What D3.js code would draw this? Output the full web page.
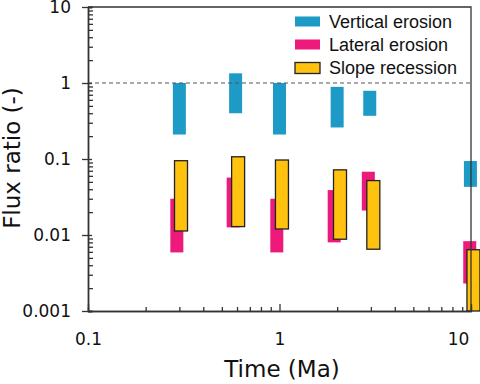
<!DOCTYPE html>
<html>
<head>
<meta charset="utf-8">
<script src="https://cdn.jsdelivr.net/npm/d3@7"></script>
<style>
  body { margin: 0; background: #fff; }
  .axis text { font-family: "DejaVu Sans", sans-serif; font-size: 17px; fill: #111; }
  .axis path, .axis line { stroke: #333; stroke-width: 1.3; }
  .legend text { font-family: "Liberation Sans", Arial, sans-serif; font-size: 18px; fill: #111; }
</style>
</head>
<body>
<div id="chart"></div>
<script>
// series: time (Ma), low and high flux ratio of each bar
var verticalT  = [0.30, 0.59, 1.0, 2.0, 2.96, 9.93];
var verticalLo = [0.21, 0.40, 0.21, 0.26, 0.37, 0.043];
var verticalHi = [1.0, 1.34, 1.0, 0.89, 0.79, 0.094];

var lateralT  = [0.291, 0.573, 0.968, 1.93, 2.91, 9.85];
var lateralLo = [0.0059, 0.0126, 0.0059, 0.008, 0.021, 0.0023];
var lateralHi = [0.030, 0.057, 0.030, 0.039, 0.068, 0.0083];

var slopeT  = [0.306, 0.608, 1.03, 2.07, 3.09, 10.3];
var slopeLo = [0.0113, 0.0129, 0.012, 0.0088, 0.0065, 0.001];
var slopeHi = [0.095, 0.107, 0.097, 0.072, 0.052, 0.0064];

var xTicks = [0.1, 1, 10];
var yTicks = [0.001, 0.01, 0.1, 1, 10];
var legendNames = ["Vertical erosion", "Lateral erosion", "Slope recession"];

var colors = ["#1e9ac6", "#ee1a7b", "#ffc20f"];

var width = 480, height = 384;
var mLeft = 88, mRight = 471, mTop = 7, mBottom = 311;
var barW = 13;

var svg = d3.select("#chart").append("svg")
    .attr("width", width)
    .attr("height", height);

var x = d3.scaleLog().domain([0.1, 10]).range([mLeft, mRight]);
var y = d3.scaleLog().domain([0.001, 10]).range([mBottom, mTop]);

// minor tick values (2..9 of every decade)
var xMinor = [], yMinor = [];
[0.1, 1].forEach(function(d) { for (var i = 2; i <= 9; i++) xMinor.push(d * i); });
[0.001, 0.01, 0.1, 1].forEach(function(d) { for (var i = 2; i <= 9; i++) yMinor.push(d * i); });

// bars
function series(t, lo, hi) {
    return t.map(function(d, i) { return { t: d, lo: lo[i], hi: hi[i] }; });
}

var g = svg.append("g");

g.selectAll(".vert")
    .data(series(verticalT, verticalLo, verticalHi))
    .enter().append("rect")
    .attr("x", d => x(d.t) - barW / 2)
    .attr("y", d => y(d.hi))
    .attr("width", barW)
    .attr("height", d => y(d.lo) - y(d.hi))
    .attr("fill", colors[0]);

g.selectAll(".lat")
    .data(series(lateralT, lateralLo, lateralHi))
    .enter().append("rect")
    .attr("x", d => x(d.t) - barW / 2)
    .attr("y", d => y(d.hi))
    .attr("width", barW)
    .attr("height", d => y(d.lo) - y(d.hi))
    .attr("fill", colors[1]);

g.selectAll(".slope")
    .data(series(slopeT, slopeLo, slopeHi))
    .enter().append("rect")
    .attr("x", d => x(d.t) - barW / 2)
    .attr("y", d => y(d.hi))
    .attr("width", barW)
    .attr("height", d => y(d.lo) - y(d.hi))
    .attr("fill", colors[2])
    .attr("stroke", "#222")
    .attr("stroke-width", 1.3);

// dashed line at ratio = 1
svg.append("line")
    .attr("x1", mLeft).attr("x2", mRight)
    .attr("y1", y(1)).attr("y2", y(1))
    .attr("stroke", "#555")
    .attr("stroke-width", 1)
    .attr("stroke-dasharray", "4,3");

// frame top / right
svg.append("path")
    .attr("d", "M" + mLeft + "," + mTop + "H" + mRight + "V" + mBottom)
    .attr("fill", "none")
    .attr("stroke", "#333")
    .attr("stroke-width", 1.3);

// x axis
svg.append("g").attr("class", "axis")
    .attr("transform", "translate(0," + mBottom + ")")
    .call(d3.axisBottom(x).tickValues(xMinor).tickSize(-4).tickFormat(""));

var xAxis = svg.append("g").attr("class", "axis")
    .attr("transform", "translate(0," + mBottom + ")")
    .call(d3.axisBottom(x).tickValues(xTicks).tickSizeInner(-7).tickSizeOuter(0)
        .tickPadding(22).tickFormat(d3.format("~g")));
xAxis.selectAll(".tick text").filter(d => d == 10).attr("dx", -13);

// y axis
svg.append("g").attr("class", "axis")
    .attr("transform", "translate(" + mLeft + ",0)")
    .call(d3.axisLeft(y).tickValues(yMinor).tickSize(-5).tickFormat(""));

svg.append("g").attr("class", "axis")
    .attr("transform", "translate(" + mLeft + ",0)")
    .call(d3.axisLeft(y).tickValues(yTicks).tickSize(-4).tickFormat(""));

svg.append("g").attr("class", "axis")
    .attr("transform", "translate(" + mLeft + ",0)")
    .call(d3.axisLeft(y).tickValues(yTicks).tickSizeInner(6).tickSizeOuter(0)
        .tickPadding(11).tickFormat(d3.format("~g")));

// axis titles
svg.append("text")
    .attr("x", 282)
    .attr("y", 377)
    .attr("text-anchor", "middle")
    .style("font-family", "DejaVu Sans, sans-serif")
    .style("font-size", "23px")
    .attr("fill", "#111")
    .text("Time (Ma)");

svg.append("text")
    .attr("transform", "translate(20,158) rotate(-90)")
    .attr("text-anchor", "middle")
    .style("font-family", "DejaVu Sans, sans-serif")
    .style("font-size", "23px")
    .attr("fill", "#111")
    .text("Flux ratio (-)");

// legend
var legend = svg.append("g").attr("class", "legend");
legendNames.forEach(function(name, i) {
    var base = 28 + i * 23;
    legend.append("rect")
        .attr("x", 295)
        .attr("y", base - 11.5)
        .attr("width", 25)
        .attr("height", i == 2 ? 11 : 10)
        .attr("fill", colors[i])
        .attr("stroke", i == 2 ? "#222" : "none")
        .attr("stroke-width", 1.3);
    legend.append("text")
        .attr("x", 329)
        .attr("y", base)
        .text(name);
});
</script>
</body>
</html>
